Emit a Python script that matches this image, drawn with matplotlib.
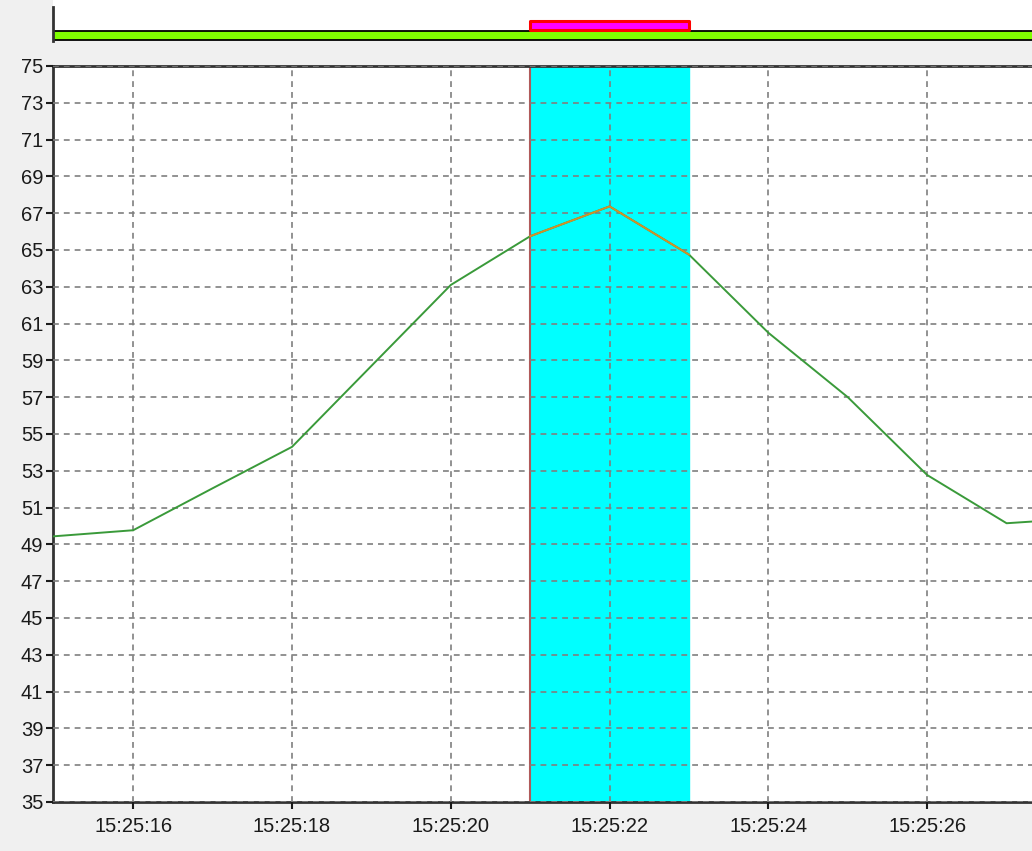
import datetime as dt
import matplotlib
matplotlib.use('Agg')
import matplotlib.pyplot as plt
import matplotlib.dates as mdates
from matplotlib.patches import Rectangle

# DATA
BASE = dt.datetime(2020, 1, 1, 15, 25, 0)
SECONDS = [15, 16, 17, 18, 19, 20, 21, 22, 23, 24, 25, 26, 27, 27.35]
VALUES = [49.44, 49.77, 52.05, 54.3, 58.7, 63.1, 65.75, 67.37, 64.75,
          60.5, 57.0, 52.77, 50.15, 50.25]
HIGHLIGHT = [21, 23]  # seconds
Y_TICKS = list(range(35, 76, 2))
X_LIMITS = [14.99, 27.32]


def t(s):
    return BASE + dt.timedelta(seconds=s)


TIMES = [t(s) for s in SECONDS]

plt.rcParams['font.family'] = ['Liberation Sans', 'DejaVu Sans']

fig = plt.figure(figsize=(10.32, 8.51), dpi=100, facecolor='#f0f0f0')

# main chart
ax = fig.add_axes([53 / 1032, 49 / 851, 1 - 53 / 1032, 736 / 851])
ax.set_facecolor('white')
ax.axvspan(t(HIGHLIGHT[0]), t(HIGHLIGHT[1]), color='#00ffff', zorder=1)
ax.axvline(t(HIGHLIGHT[0]), color='#b05a5a', lw=1.5, zorder=2)

ax.plot(TIMES, VALUES, color='#3a9a3a', lw=1.4, zorder=3)
seg = [(a, v) for a, s, v in zip(TIMES, SECONDS, VALUES) if HIGHLIGHT[0] <= s <= HIGHLIGHT[1]]
ax.plot([p[0] for p in seg], [p[1] for p in seg], color='#d2902a', lw=1.4, zorder=4)

ax.set_ylim(35, 75)
ax.set_yticks(Y_TICKS)
ax.set_xlim(t(X_LIMITS[0]), t(X_LIMITS[1]))
ax.xaxis.set_major_locator(mdates.SecondLocator(bysecond=range(0, 60, 2)))
ax.xaxis.set_major_formatter(mdates.DateFormatter('%H:%M:%S'))
ax.grid(True, color='#7f7f7f', ls=(0, (3.5, 3)), lw=1.2, zorder=2)
ax.set_axisbelow(False)
for s in ['left', 'bottom', 'top']:
    ax.spines[s].set_color('#333333')
    ax.spines[s].set_linewidth(2)
ax.spines['right'].set_visible(False)
ax.tick_params(axis='both', labelsize=14.5, colors='#1a1a1a', length=5, width=1.5, pad=2)
ax.tick_params(axis='x', pad=6)

# top strip (y in pixel units from the figure top)
top = fig.add_axes([53 / 1032, 810 / 851, 1 - 53 / 1032, 41 / 851])
top.set_facecolor('white')
top.set_xlim(t(X_LIMITS[0]), t(X_LIMITS[1]))
top.set_ylim(41, 0)
x0 = mdates.date2num(t(X_LIMITS[0]))
x1 = mdates.date2num(t(X_LIMITS[1]))
top.add_patch(Rectangle((x0, 31), x1 - x0 + 1, 8.8, facecolor='#80ff00',
                        edgecolor='black', lw=1.3))
h0 = mdates.date2num(t(HIGHLIGHT[0]))
h1 = mdates.date2num(t(HIGHLIGHT[1]))
top.add_patch(Rectangle((h0, 20.5), h1 - h0, 9, facecolor='#ff00ff',
                        edgecolor='#ff0000', lw=2.2, joinstyle='round'))
top.set_xticks([])
top.set_yticks([])
for s in ['top', 'right', 'bottom']:
    top.spines[s].set_visible(False)
top.spines['left'].set_color('#333333')
top.spines['left'].set_linewidth(2)
top.spines['left'].set_bounds(41, 7)

fig.savefig('out.png', dpi=100, facecolor=fig.get_facecolor())
